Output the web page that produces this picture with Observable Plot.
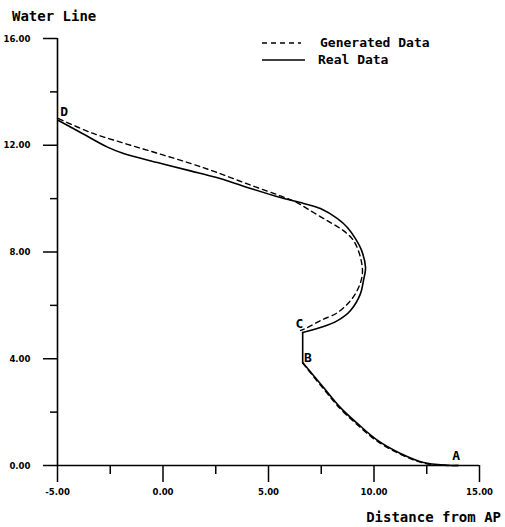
<!DOCTYPE html>
<html>
<head>
<meta charset="utf-8">
<script src="https://cdn.jsdelivr.net/npm/d3@7"></script>
<script src="https://cdn.jsdelivr.net/npm/@observablehq/plot@0.6"></script>
<style>
  html, body { margin: 0; padding: 0; background: white; }
  #chart { position: relative; width: 505px; height: 527px; }
</style>
</head>
<body>
<div id="chart"></div>
<script>
// Axis ticks and labels
const xTicks = [-5, 0, 5, 10, 15];
const xTickLabels = ["-5.00", "0.00", "5.00", "10.00", "15.00"];
const xMinorTicks = [-2.5, 2.5, 7.5, 12.5];
const yTicks = [0, 4, 8, 12, 16];
const yTickLabels = ["0.00", "4.00", "8.00", "12.00", "16.00"];
const yMinorTicks = [2, 6, 10, 14];

// Real data (solid): upper branch D -> C, lower branch B -> A
const realUpperX = [-4.95, -3.82, -2.63, -1.87, -0.26, 1.30, 2.50, 4.00, 5.57, 6.66, 7.46, 8.27, 8.74, 9.12, 9.41, 9.60, 9.50, 9.36, 8.89, 8.27, 7.46, 6.62];
const realUpperY = [12.93, 12.44, 11.93, 11.69, 11.35, 11.04, 10.80, 10.42, 10.04, 9.82, 9.63, 9.25, 8.92, 8.50, 8.06, 7.42, 6.93, 6.44, 5.81, 5.43, 5.17, 4.98];
const realLowerX = [6.62, 7.61, 8.41, 9.22, 10.17, 11.26, 12.35, 13.48, 14.0];
const realLowerY = [3.86, 2.92, 2.17, 1.57, 0.94, 0.45, 0.11, 0.01, 0.0];

// Generated data (dashed)
const genUpperX = [-4.95, -3.44, -1.87, -0.26, 1.30, 2.49, 4.00, 5.57, 6.37, 7.13, 7.94, 8.55, 9.03, 9.36, 9.45, 9.27, 8.89, 8.27, 7.46, 6.85, 6.52];
const genUpperY = [13.00, 12.48, 12.08, 11.70, 11.32, 11.00, 10.55, 10.10, 9.84, 9.48, 9.10, 8.80, 8.43, 7.79, 7.19, 6.67, 6.18, 5.73, 5.43, 5.17, 5.06];
const genLowerX = [6.62, 7.61, 8.41, 9.22, 10.17, 11.26, 12.35, 13.48, 14.0];
const genLowerY = [3.84, 2.87, 2.12, 1.52, 0.90, 0.42, 0.09, 0.0, 0.0];

// Point annotations
const pointNames = ["A", "B", "C", "D"];
const pointX = [13.89, 6.87, 6.47, -4.69];
const pointY = [0.36, 4.04, 5.30, 13.26];

// Texts
const yTitle = "Water Line";
const xTitle = "Distance from AP";
const seriesNames = ["Generated Data", "Real Data"];

const pts = (xs, ys) => xs.map((x, i) => ({x, y: ys[i]}));
const realUpper = pts(realUpperX, realUpperY);
const realLower = pts(realLowerX, realLowerY);
const genUpper = pts(genUpperX, genUpperY);
const genLower = pts(genLowerX, genLowerY);
const points = pointNames.map((t, i) => ({t, x: pointX[i], y: pointY[i]}));

const tickFont = {fontSize: 9.5, fontWeight: "bold", fontFamily: "DejaVu Sans Condensed"};

const plot = Plot.plot({
  width: 505,
  height: 527,
  marginLeft: 57,
  marginRight: 26,
  marginTop: 38,
  marginBottom: 62,
  x: {domain: [-5, 15]},
  y: {domain: [0, 16]},
  style: {background: "white", color: "black"},
  marks: [
    Plot.axisX(xTicks, {tickSize: 17, tickPadding: 6, strokeWidth: 1.5, label: null,
      tickFormat: d => xTickLabels[xTicks.indexOf(d)], ...tickFont}),
    Plot.axisX(xMinorTicks, {tickSize: 9, strokeWidth: 1.5, label: null, tickFormat: () => ""}),
    Plot.axisY(yTicks, {tickSize: 14, tickPadding: 13, strokeWidth: 1.5, label: null,
      tickFormat: d => yTickLabels[yTicks.indexOf(d)], ...tickFont}),
    Plot.axisY(yMinorTicks, {tickSize: 7, strokeWidth: 1.5, label: null, tickFormat: () => ""}),
    Plot.ruleY([0], {stroke: "black", strokeWidth: 1.6}),
    Plot.ruleX([-5], {stroke: "black", strokeWidth: 1.6}),
    Plot.line(genUpper, {x: "x", y: "y", curve: "catmull-rom", stroke: "black", strokeWidth: 1.4, strokeDasharray: "5,4"}),
    Plot.line(genLower, {x: "x", y: "y", curve: "catmull-rom", stroke: "black", strokeWidth: 1.4, strokeDasharray: "5,4"}),
    Plot.line(realUpper, {x: "x", y: "y", curve: "catmull-rom", stroke: "black", strokeWidth: 1.6}),
    Plot.line([realUpper[realUpper.length - 1], realLower[0]], {x: "x", y: "y", stroke: "black", strokeWidth: 1.6}),
    Plot.line(realLower, {x: "x", y: "y", curve: "catmull-rom", stroke: "black", strokeWidth: 1.6}),
    Plot.text(points, {x: "x", y: "y", text: "t", fontSize: 13, fontWeight: "bold", fontFamily: "DejaVu Sans Mono", fill: "black"})
  ]
});

document.getElementById("chart").appendChild(plot);

// Titles and legend
const svg = d3.select(plot);
const mono = "'DejaVu Sans Mono', monospace";
svg.append("text").attr("x", 12).attr("y", 21).attr("text-anchor", "start").text(yTitle)
  .attr("font-family", mono).attr("font-size", 14).attr("font-weight", "bold").attr("fill", "black");
svg.append("text").attr("x", 501).attr("y", 522).attr("text-anchor", "end").text(xTitle)
  .attr("font-family", mono).attr("font-size", 14).attr("font-weight", "bold").attr("fill", "black");

const legend = svg.append("g").attr("text-anchor", "start");
legend.append("line").attr("x1", 262).attr("x2", 301).attr("y1", 43).attr("y2", 43)
  .attr("stroke", "black").attr("stroke-width", 1.4).attr("stroke-dasharray", "5,4");
legend.append("line").attr("x1", 262).attr("x2", 305).attr("y1", 60).attr("y2", 60)
  .attr("stroke", "black").attr("stroke-width", 1.6);
legend.append("text").attr("x", 320).attr("y", 47).attr("text-anchor", "start").text(seriesNames[0])
  .attr("font-family", mono).attr("font-size", 13).attr("font-weight", 600).attr("fill", "black");
legend.append("text").attr("x", 318).attr("y", 64).attr("text-anchor", "start").text(seriesNames[1])
  .attr("font-family", mono).attr("font-size", 13).attr("font-weight", 600).attr("fill", "black");
</script>
</body>
</html>
